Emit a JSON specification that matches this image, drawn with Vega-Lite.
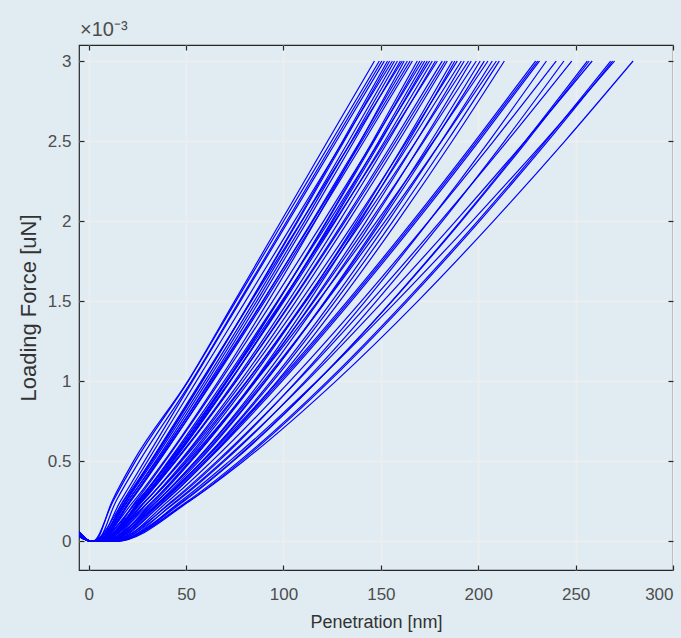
{
"$schema":"https://vega.github.io/schema/vega-lite/v6.json",
"width":594,"height":525,
"autosize":{"type":"none"},
"padding":{"left":79,"top":45,"right":8,"bottom":68},
"background":"#e0ecf2",
"config":{"view":{"stroke":"#262626","strokeWidth":1.2},"font":"Liberation Sans"},
"title":{"text":"×10⁻³","anchor":"start","frame":"group","fontSize":20,"fontWeight":"normal","color":"#4d4d4d","offset":4,"dx":1},
"datasets":{"curves":[
{"c":1,"x":-5,"y":0.00003},{"c":1,"x":1,"y":0},{"c":1,"x":3,"y":0},{"c":1,"x":12,"y":0.00025},{"c":1,"x":23,"y":0.0005},{"c":1,"x":50.9,"y":0.001},{"c":1,"x":74.9,"y":0.0015},{"c":1,"x":98.8,"y":0.002},{"c":1,"x":122.7,"y":0.0025},{"c":1,"x":146.7,"y":0.003},
{"c":2,"x":-5,"y":0.00005},{"c":2,"x":1,"y":0},{"c":2,"x":2,"y":0},{"c":2,"x":12.5,"y":0.00025},{"c":2,"x":24,"y":0.0005},{"c":2,"x":51.1,"y":0.001},{"c":2,"x":75.6,"y":0.0015},{"c":2,"x":100.1,"y":0.002},{"c":2,"x":124.7,"y":0.0025},{"c":2,"x":149.2,"y":0.003},
{"c":3,"x":-5,"y":0.00004},{"c":3,"x":1,"y":0},{"c":3,"x":4,"y":0},{"c":3,"x":16.3,"y":0.00025},{"c":3,"x":28.6,"y":0.0005},{"c":3,"x":53.3,"y":0.001},{"c":3,"x":77.9,"y":0.0015},{"c":3,"x":102.5,"y":0.002},{"c":3,"x":127.2,"y":0.0025},{"c":3,"x":151.8,"y":0.003},
{"c":4,"x":-5,"y":0.00006},{"c":4,"x":1,"y":0},{"c":4,"x":3,"y":0},{"c":4,"x":18.7,"y":0.00025},{"c":4,"x":32.5,"y":0.0005},{"c":4,"x":58.4,"y":0.001},{"c":4,"x":83.1,"y":0.0015},{"c":4,"x":107.0,"y":0.002},{"c":4,"x":130.4,"y":0.0025},{"c":4,"x":153.4,"y":0.003},
{"c":5,"x":-5,"y":0.00003},{"c":5,"x":1,"y":0},{"c":5,"x":5,"y":0},{"c":5,"x":17.6,"y":0.00025},{"c":5,"x":30.2,"y":0.0005},{"c":5,"x":55.3,"y":0.001},{"c":5,"x":80.5,"y":0.0015},{"c":5,"x":105.6,"y":0.002},{"c":5,"x":130.7,"y":0.0025},{"c":5,"x":155.9,"y":0.003},
{"c":6,"x":-5,"y":0.00005},{"c":6,"x":1,"y":0},{"c":6,"x":3,"y":0},{"c":6,"x":19.1,"y":0.00025},{"c":6,"x":33.2,"y":0.0005},{"c":6,"x":59.7,"y":0.001},{"c":6,"x":85.0,"y":0.0015},{"c":6,"x":109.5,"y":0.002},{"c":6,"x":133.5,"y":0.0025},{"c":6,"x":157.0,"y":0.003},
{"c":7,"x":-5,"y":0.00004},{"c":7,"x":1,"y":0},{"c":7,"x":4,"y":0},{"c":7,"x":20.1,"y":0.00025},{"c":7,"x":34.3,"y":0.0005},{"c":7,"x":60.9,"y":0.001},{"c":7,"x":86.3,"y":0.0015},{"c":7,"x":110.9,"y":0.002},{"c":7,"x":134.9,"y":0.0025},{"c":7,"x":158.5,"y":0.003},
{"c":8,"x":-5,"y":0.00006},{"c":8,"x":1,"y":0},{"c":8,"x":6,"y":0},{"c":8,"x":18.9,"y":0.00025},{"c":8,"x":31.8,"y":0.0005},{"c":8,"x":57.7,"y":0.001},{"c":8,"x":83.5,"y":0.0015},{"c":8,"x":109.3,"y":0.002},{"c":8,"x":135.2,"y":0.0025},{"c":8,"x":161.0,"y":0.003},
{"c":9,"x":-5,"y":0.00003},{"c":9,"x":1,"y":0},{"c":9,"x":3,"y":0},{"c":9,"x":23.1,"y":0.00025},{"c":9,"x":38.7,"y":0.0005},{"c":9,"x":66.6,"y":0.001},{"c":9,"x":92.2,"y":0.0015},{"c":9,"x":116.4,"y":0.002},{"c":9,"x":139.6,"y":0.0025},{"c":9,"x":162.0,"y":0.003},
{"c":10,"x":-5,"y":0.00005},{"c":10,"x":1,"y":0},{"c":10,"x":5,"y":0},{"c":10,"x":21.6,"y":0.00025},{"c":10,"x":36.1,"y":0.0005},{"c":10,"x":63.4,"y":0.001},{"c":10,"x":89.5,"y":0.0015},{"c":10,"x":114.7,"y":0.002},{"c":10,"x":139.4,"y":0.0025},{"c":10,"x":163.6,"y":0.003},
{"c":11,"x":-5,"y":0.00004},{"c":11,"x":1,"y":0},{"c":11,"x":4,"y":0},{"c":11,"x":21.0,"y":0.00025},{"c":11,"x":35.8,"y":0.0005},{"c":11,"x":63.8,"y":0.001},{"c":11,"x":90.4,"y":0.0015},{"c":11,"x":116.2,"y":0.002},{"c":11,"x":141.4,"y":0.0025},{"c":11,"x":166.2,"y":0.003},
{"c":12,"x":-5,"y":0.00006},{"c":12,"x":1,"y":0},{"c":12,"x":6,"y":0},{"c":12,"x":26.5,"y":0.00025},{"c":12,"x":42.6,"y":0.0005},{"c":12,"x":71.1,"y":0.001},{"c":12,"x":97.3,"y":0.0015},{"c":12,"x":122.1,"y":0.002},{"c":12,"x":145.8,"y":0.0025},{"c":12,"x":168.7,"y":0.003},
{"c":13,"x":-5,"y":0.00003},{"c":13,"x":1,"y":0},{"c":13,"x":4,"y":0},{"c":13,"x":24.9,"y":0.00025},{"c":13,"x":41.3,"y":0.0005},{"c":13,"x":70.5,"y":0.001},{"c":13,"x":97.2,"y":0.0015},{"c":13,"x":122.4,"y":0.002},{"c":13,"x":146.6,"y":0.0025},{"c":13,"x":170.0,"y":0.003},
{"c":14,"x":-5,"y":0.00005},{"c":14,"x":1,"y":0},{"c":14,"x":7,"y":0},{"c":14,"x":24.2,"y":0.00025},{"c":14,"x":39.2,"y":0.0005},{"c":14,"x":67.5,"y":0.001},{"c":14,"x":94.5,"y":0.0015},{"c":14,"x":120.6,"y":0.002},{"c":14,"x":146.2,"y":0.0025},{"c":14,"x":171.3,"y":0.003},
{"c":15,"x":-5,"y":0.00004},{"c":15,"x":1,"y":0},{"c":15,"x":5,"y":0},{"c":15,"x":26.3,"y":0.00025},{"c":15,"x":42.9,"y":0.0005},{"c":15,"x":72.6,"y":0.001},{"c":15,"x":99.7,"y":0.0015},{"c":15,"x":125.4,"y":0.002},{"c":15,"x":150.0,"y":0.0025},{"c":15,"x":173.8,"y":0.003},
{"c":16,"x":-5,"y":0.00006},{"c":16,"x":1,"y":0},{"c":16,"x":3,"y":0},{"c":16,"x":24.9,"y":0.00025},{"c":16,"x":42.0,"y":0.0005},{"c":16,"x":72.4,"y":0.001},{"c":16,"x":100.3,"y":0.0015},{"c":16,"x":126.7,"y":0.002},{"c":16,"x":152.0,"y":0.0025},{"c":16,"x":176.4,"y":0.003},
{"c":17,"x":-5,"y":0.00003},{"c":17,"x":1,"y":0},{"c":17,"x":6,"y":0},{"c":17,"x":27.7,"y":0.00025},{"c":17,"x":44.6,"y":0.0005},{"c":17,"x":74.9,"y":0.001},{"c":17,"x":102.5,"y":0.0015},{"c":17,"x":128.7,"y":0.002},{"c":17,"x":153.8,"y":0.0025},{"c":17,"x":178.0,"y":0.003},
{"c":18,"x":-5,"y":0.00005},{"c":18,"x":1,"y":0},{"c":18,"x":8,"y":0},{"c":18,"x":25.9,"y":0.00025},{"c":18,"x":41.5,"y":0.0005},{"c":18,"x":71.0,"y":0.001},{"c":18,"x":99.1,"y":0.0015},{"c":18,"x":126.3,"y":0.002},{"c":18,"x":152.9,"y":0.0025},{"c":18,"x":179.0,"y":0.003},
{"c":19,"x":-5,"y":0.00004},{"c":19,"x":1,"y":0},{"c":19,"x":5,"y":0},{"c":19,"x":27.3,"y":0.00025},{"c":19,"x":44.7,"y":0.0005},{"c":19,"x":75.7,"y":0.001},{"c":19,"x":104.1,"y":0.0015},{"c":19,"x":130.9,"y":0.002},{"c":19,"x":156.6,"y":0.0025},{"c":19,"x":181.5,"y":0.003},
{"c":20,"x":-5,"y":0.00006},{"c":20,"x":1,"y":0},{"c":20,"x":7,"y":0},{"c":20,"x":29.3,"y":0.00025},{"c":20,"x":46.8,"y":0.0005},{"c":20,"x":77.9,"y":0.001},{"c":20,"x":106.4,"y":0.0015},{"c":20,"x":133.3,"y":0.002},{"c":20,"x":159.2,"y":0.0025},{"c":20,"x":184.1,"y":0.003},
{"c":21,"x":-5,"y":0.00003},{"c":21,"x":1,"y":0},{"c":21,"x":4,"y":0},{"c":21,"x":31.0,"y":0.00025},{"c":21,"x":50.0,"y":0.0005},{"c":21,"x":82.5,"y":0.001},{"c":21,"x":111.2,"y":0.0015},{"c":21,"x":137.8,"y":0.002},{"c":21,"x":162.8,"y":0.0025},{"c":21,"x":186.7,"y":0.003},
{"c":22,"x":-5,"y":0.00005},{"c":22,"x":1,"y":0},{"c":22,"x":6,"y":0},{"c":22,"x":29.1,"y":0.00025},{"c":22,"x":47.2,"y":0.0005},{"c":22,"x":79.3,"y":0.001},{"c":22,"x":108.8,"y":0.0015},{"c":22,"x":136.7,"y":0.002},{"c":22,"x":163.4,"y":0.0025},{"c":22,"x":189.2,"y":0.003},
{"c":23,"x":-5,"y":0.00004},{"c":23,"x":1,"y":0},{"c":23,"x":8,"y":0},{"c":23,"x":31.1,"y":0.00025},{"c":23,"x":49.2,"y":0.0005},{"c":23,"x":81.4,"y":0.001},{"c":23,"x":110.9,"y":0.0015},{"c":23,"x":138.8,"y":0.002},{"c":23,"x":165.5,"y":0.0025},{"c":23,"x":191.3,"y":0.003},
{"c":24,"x":-5,"y":0.00006},{"c":24,"x":1,"y":0},{"c":24,"x":5,"y":0},{"c":24,"x":32.8,"y":0.00025},{"c":24,"x":52.3,"y":0.0005},{"c":24,"x":85.7,"y":0.001},{"c":24,"x":115.2,"y":0.0015},{"c":24,"x":142.5,"y":0.002},{"c":24,"x":168.2,"y":0.0025},{"c":24,"x":192.8,"y":0.003},
{"c":25,"x":-5,"y":0.00003},{"c":25,"x":1,"y":0},{"c":25,"x":7,"y":0},{"c":25,"x":35.0,"y":0.00025},{"c":25,"x":54.7,"y":0.0005},{"c":25,"x":88.4,"y":0.001},{"c":25,"x":118.1,"y":0.0015},{"c":25,"x":145.7,"y":0.002},{"c":25,"x":171.6,"y":0.0025},{"c":25,"x":196.4,"y":0.003},
{"c":26,"x":-5,"y":0.00005},{"c":26,"x":1,"y":0},{"c":26,"x":9,"y":0},{"c":26,"x":33.0,"y":0.00025},{"c":26,"x":51.7,"y":0.0005},{"c":26,"x":85.1,"y":0.001},{"c":26,"x":115.7,"y":0.0015},{"c":26,"x":144.5,"y":0.002},{"c":26,"x":172.2,"y":0.0025},{"c":26,"x":199.0,"y":0.003},
{"c":27,"x":-5,"y":0.00004},{"c":27,"x":1,"y":0},{"c":27,"x":6,"y":0},{"c":27,"x":35.1,"y":0.00025},{"c":27,"x":55.7,"y":0.0005},{"c":27,"x":90.7,"y":0.001},{"c":27,"x":121.7,"y":0.0015},{"c":27,"x":150.3,"y":0.002},{"c":27,"x":177.3,"y":0.0025},{"c":27,"x":203.1,"y":0.003},
{"c":28,"x":-5,"y":0.00006},{"c":28,"x":1,"y":0},{"c":28,"x":8,"y":0},{"c":28,"x":37.4,"y":0.00025},{"c":28,"x":58.2,"y":0.0005},{"c":28,"x":93.6,"y":0.001},{"c":28,"x":124.9,"y":0.0015},{"c":28,"x":153.8,"y":0.002},{"c":28,"x":181.1,"y":0.0025},{"c":28,"x":207.2,"y":0.003},
{"c":29,"x":-5,"y":0.00003},{"c":29,"x":1,"y":0},{"c":29,"x":10,"y":0},{"c":29,"x":35.1,"y":0.00025},{"c":29,"x":54.8,"y":0.0005},{"c":29,"x":89.8,"y":0.001},{"c":29,"x":121.9,"y":0.0015},{"c":29,"x":152.2,"y":0.002},{"c":29,"x":181.2,"y":0.0025},{"c":29,"x":209.3,"y":0.003},
{"c":30,"x":-5,"y":0.00005},{"c":30,"x":1,"y":0},{"c":30,"x":7,"y":0},{"c":30,"x":37.1,"y":0.00025},{"c":30,"x":58.4,"y":0.0005},{"c":30,"x":94.6,"y":0.001},{"c":30,"x":126.6,"y":0.0015},{"c":30,"x":156.2,"y":0.002},{"c":30,"x":184.1,"y":0.0025},{"c":30,"x":210.8,"y":0.003},
{"c":31,"x":-5,"y":0.00004},{"c":31,"x":1,"y":0},{"c":31,"x":9,"y":0},{"c":31,"x":39.2,"y":0.00025},{"c":31,"x":60.5,"y":0.0005},{"c":31,"x":96.8,"y":0.001},{"c":31,"x":128.9,"y":0.0015},{"c":31,"x":158.6,"y":0.002},{"c":31,"x":186.7,"y":0.0025},{"c":31,"x":213.4,"y":0.003},
{"c":32,"x":-5,"y":0.00006},{"c":32,"x":1,"y":0},{"c":32,"x":9,"y":0},{"c":32,"x":36.8,"y":0.00025},{"c":32,"x":58.5,"y":0.0005},{"c":32,"x":97.3,"y":0.001},{"c":32,"x":132.8,"y":0.0015},{"c":32,"x":166.3,"y":0.002},{"c":32,"x":198.4,"y":0.0025},{"c":32,"x":229.5,"y":0.003},
{"c":33,"x":-5,"y":0.00003},{"c":33,"x":1,"y":0},{"c":33,"x":11,"y":0},{"c":33,"x":38.8,"y":0.00025},{"c":33,"x":60.5,"y":0.0005},{"c":33,"x":99.3,"y":0.001},{"c":33,"x":134.8,"y":0.0015},{"c":33,"x":168.3,"y":0.002},{"c":33,"x":200.4,"y":0.0025},{"c":33,"x":231.5,"y":0.003},
{"c":34,"x":-5,"y":0.00005},{"c":34,"x":1,"y":0},{"c":34,"x":10,"y":0},{"c":34,"x":43.3,"y":0.00025},{"c":34,"x":66.7,"y":0.0005},{"c":34,"x":106.7,"y":0.001},{"c":34,"x":142.0,"y":0.0015},{"c":34,"x":174.7,"y":0.002},{"c":34,"x":205.6,"y":0.0025},{"c":34,"x":235.0,"y":0.003},
{"c":35,"x":-5,"y":0.00004},{"c":35,"x":1,"y":0},{"c":35,"x":12,"y":0},{"c":35,"x":40.8,"y":0.00025},{"c":35,"x":63.2,"y":0.0005},{"c":35,"x":103.3,"y":0.001},{"c":35,"x":140.0,"y":0.0015},{"c":35,"x":174.6,"y":0.002},{"c":35,"x":207.9,"y":0.0025},{"c":35,"x":240.0,"y":0.003},
{"c":36,"x":-5,"y":0.00006},{"c":36,"x":1,"y":0},{"c":36,"x":11,"y":0},{"c":36,"x":45.4,"y":0.00025},{"c":36,"x":69.7,"y":0.0005},{"c":36,"x":111.1,"y":0.001},{"c":36,"x":147.7,"y":0.0015},{"c":36,"x":181.6,"y":0.002},{"c":36,"x":213.5,"y":0.0025},{"c":36,"x":244.0,"y":0.003},
{"c":37,"x":-5,"y":0.00003},{"c":37,"x":1,"y":0},{"c":37,"x":13,"y":0},{"c":37,"x":42.6,"y":0.00025},{"c":37,"x":65.8,"y":0.0005},{"c":37,"x":107.1,"y":0.001},{"c":37,"x":144.9,"y":0.0015},{"c":37,"x":180.6,"y":0.002},{"c":37,"x":214.9,"y":0.0025},{"c":37,"x":248.0,"y":0.003},
{"c":38,"x":-5,"y":0.00005},{"c":38,"x":1,"y":0},{"c":38,"x":12,"y":0},{"c":38,"x":48.2,"y":0.00025},{"c":38,"x":73.7,"y":0.0005},{"c":38,"x":117.3,"y":0.001},{"c":38,"x":155.8,"y":0.0015},{"c":38,"x":191.4,"y":0.002},{"c":38,"x":225.0,"y":0.0025},{"c":38,"x":257.0,"y":0.003},
{"c":39,"x":-5,"y":0.00004},{"c":39,"x":1,"y":0},{"c":39,"x":14,"y":0},{"c":39,"x":44.8,"y":0.00025},{"c":39,"x":68.9,"y":0.0005},{"c":39,"x":111.9,"y":0.001},{"c":39,"x":151.2,"y":0.0015},{"c":39,"x":188.4,"y":0.002},{"c":39,"x":224.1,"y":0.0025},{"c":39,"x":258.5,"y":0.003},
{"c":40,"x":-5,"y":0.00006},{"c":40,"x":1,"y":0},{"c":40,"x":13,"y":0},{"c":40,"x":50.7,"y":0.00025},{"c":40,"x":77.3,"y":0.0005},{"c":40,"x":122.6,"y":0.001},{"c":40,"x":162.6,"y":0.0015},{"c":40,"x":199.7,"y":0.002},{"c":40,"x":234.7,"y":0.0025},{"c":40,"x":268.0,"y":0.003},
{"c":41,"x":-5,"y":0.00003},{"c":41,"x":1,"y":0},{"c":41,"x":15,"y":0},{"c":41,"x":47.2,"y":0.00025},{"c":41,"x":72.3,"y":0.0005},{"c":41,"x":117.1,"y":0.001},{"c":41,"x":158.1,"y":0.0015},{"c":41,"x":196.9,"y":0.002},{"c":41,"x":234.1,"y":0.0025},{"c":41,"x":270.0,"y":0.003},
{"c":42,"x":-5,"y":0.00005},{"c":42,"x":1,"y":0},{"c":42,"x":12,"y":0},{"c":42,"x":51.5,"y":0.00025},{"c":42,"x":79.4,"y":0.0005},{"c":42,"x":126.9,"y":0.001},{"c":42,"x":169.0,"y":0.0015},{"c":42,"x":207.8,"y":0.002},{"c":42,"x":244.5,"y":0.0025},{"c":42,"x":279.5,"y":0.003},
{"c":43,"x":-5,"y":0.00004},{"c":43,"x":1,"y":0},{"c":43,"x":4,"y":0},{"c":43,"x":14.0,"y":0.00025},{"c":43,"x":26.0,"y":0.0005},{"c":43,"x":52.8,"y":0.001},{"c":43,"x":77.3,"y":0.0015},{"c":43,"x":101.7,"y":0.002},{"c":43,"x":126.1,"y":0.0025},{"c":43,"x":150.5,"y":0.003},
{"c":44,"x":-5,"y":0.00006},{"c":44,"x":1,"y":0},{"c":44,"x":2,"y":0},{"c":44,"x":17.9,"y":0.00025},{"c":44,"x":31.9,"y":0.0005},{"c":44,"x":58.2,"y":0.001},{"c":44,"x":83.2,"y":0.0015},{"c":44,"x":107.5,"y":0.002},{"c":44,"x":131.2,"y":0.0025},{"c":44,"x":154.5,"y":0.003},
{"c":45,"x":-5,"y":0.00003},{"c":45,"x":1,"y":0},{"c":45,"x":5,"y":0},{"c":45,"x":21.2,"y":0.00025},{"c":45,"x":35.4,"y":0.0005},{"c":45,"x":62.1,"y":0.001},{"c":45,"x":87.6,"y":0.0015},{"c":45,"x":112.2,"y":0.002},{"c":45,"x":136.3,"y":0.0025},{"c":45,"x":160.0,"y":0.003},
{"c":46,"x":-5,"y":0.00005},{"c":46,"x":1,"y":0},{"c":46,"x":3,"y":0},{"c":46,"x":19.9,"y":0.00025},{"c":46,"x":34.8,"y":0.0005},{"c":46,"x":62.7,"y":0.001},{"c":46,"x":89.3,"y":0.0015},{"c":46,"x":115.1,"y":0.002},{"c":46,"x":140.3,"y":0.0025},{"c":46,"x":165.0,"y":0.003},
{"c":47,"x":-5,"y":0.00004},{"c":47,"x":1,"y":0},{"c":47,"x":6,"y":0},{"c":47,"x":27.0,"y":0.00025},{"c":47,"x":43.4,"y":0.0005},{"c":47,"x":72.7,"y":0.001},{"c":47,"x":99.5,"y":0.0015},{"c":47,"x":124.8,"y":0.002},{"c":47,"x":149.0,"y":0.0025},{"c":47,"x":172.5,"y":0.003},
{"c":48,"x":-5,"y":0.00006},{"c":48,"x":1,"y":0},{"c":48,"x":8,"y":0},{"c":48,"x":25.5,"y":0.00025},{"c":48,"x":40.8,"y":0.0005},{"c":48,"x":69.5,"y":0.001},{"c":48,"x":96.9,"y":0.0015},{"c":48,"x":123.5,"y":0.002},{"c":48,"x":149.5,"y":0.0025},{"c":48,"x":175.0,"y":0.003},
{"c":49,"x":-5,"y":0.00003},{"c":49,"x":1,"y":0},{"c":49,"x":4,"y":0},{"c":49,"x":26.6,"y":0.00025},{"c":49,"x":44.2,"y":0.0005},{"c":49,"x":75.7,"y":0.001},{"c":49,"x":104.5,"y":0.0015},{"c":49,"x":131.7,"y":0.002},{"c":49,"x":157.8,"y":0.0025},{"c":49,"x":183.0,"y":0.003},
{"c":50,"x":-5,"y":0.00005},{"c":50,"x":1,"y":0},{"c":50,"x":7,"y":0},{"c":50,"x":33.8,"y":0.00025},{"c":50,"x":52.6,"y":0.0005},{"c":50,"x":84.8,"y":0.001},{"c":50,"x":113.2,"y":0.0015},{"c":50,"x":139.5,"y":0.002},{"c":50,"x":164.3,"y":0.0025},{"c":50,"x":188.0,"y":0.003},
{"c":51,"x":-5,"y":0.00004},{"c":51,"x":1,"y":0},{"c":51,"x":5,"y":0},{"c":51,"x":29.0,"y":0.00025},{"c":51,"x":47.7,"y":0.0005},{"c":51,"x":81.1,"y":0.001},{"c":51,"x":111.6,"y":0.0015},{"c":51,"x":140.5,"y":0.002},{"c":51,"x":168.2,"y":0.0025},{"c":51,"x":195.0,"y":0.003},
{"c":52,"x":-5,"y":0.00006},{"c":52,"x":1,"y":0},{"c":52,"x":8,"y":0},{"c":52,"x":36.5,"y":0.00025},{"c":52,"x":56.6,"y":0.0005},{"c":52,"x":90.9,"y":0.001},{"c":52,"x":121.3,"y":0.0015},{"c":52,"x":149.3,"y":0.002},{"c":52,"x":175.8,"y":0.0025},{"c":52,"x":201.0,"y":0.003},
{"c":53,"x":-5,"y":0.00003},{"c":53,"x":1,"y":0},{"c":53,"x":6,"y":0},{"c":53,"x":31.1,"y":0.00025},{"c":53,"x":50.7,"y":0.0005},{"c":53,"x":85.7,"y":0.001},{"c":53,"x":117.7,"y":0.0015},{"c":53,"x":148.0,"y":0.002},{"c":53,"x":177.0,"y":0.0025},{"c":53,"x":205.0,"y":0.003},
{"c":54,"x":-5,"y":0.00005},{"c":54,"x":1,"y":0},{"c":54,"x":10,"y":0},{"c":54,"x":37.8,"y":0.00025},{"c":54,"x":59.6,"y":0.0005},{"c":54,"x":98.3,"y":0.001},{"c":54,"x":133.8,"y":0.0015},{"c":54,"x":167.3,"y":0.002},{"c":54,"x":199.4,"y":0.0025},{"c":54,"x":230.5,"y":0.003},
{"c":55,"x":-5,"y":0.00004},{"c":55,"x":1,"y":0},{"c":55,"x":13,"y":0},{"c":55,"x":48.9,"y":0.00025},{"c":55,"x":74.2,"y":0.0005},{"c":55,"x":117.4,"y":0.001},{"c":55,"x":155.6,"y":0.0015},{"c":55,"x":190.9,"y":0.002},{"c":55,"x":224.2,"y":0.0025},{"c":55,"x":256.0,"y":0.003},
{"c":56,"x":-5,"y":0.00006},{"c":56,"x":1,"y":0},{"c":56,"x":14,"y":0},{"c":56,"x":51.7,"y":0.00025},{"c":56,"x":78.3,"y":0.0005},{"c":56,"x":123.6,"y":0.001},{"c":56,"x":163.6,"y":0.0015},{"c":56,"x":200.7,"y":0.002},{"c":56,"x":235.7,"y":0.0025},{"c":56,"x":269.0,"y":0.003}
]},
"data":{"name":"curves"},
"layer":[
{"mark":{"type":"line","color":"#0000ff","strokeWidth":1.2,"interpolate":"monotone","clip":true},
 "encoding":{
  "x":{"field":"x","type":"quantitative","scale":{"domain":[-5,300],"nice":false,"zero":false},
   "axis":{"values":[0,50,100,150,200,250,300],"title":"Penetration [nm]","grid":true,"gridColor":"#eeeeee","gridWidth":1.5,"domain":false,"ticks":false,"labelPadding":16,"labelFontSize":17,"labelColor":"#4d4d4d","labelFont":"Liberation Sans","titleFont":"Liberation Sans","titleFontSize":18,"titleFontWeight":"normal","titleColor":"#333333","titlePadding":11}},
  "y":{"field":"y","type":"quantitative","scale":{"domain":[-0.00018,0.0031],"nice":false,"zero":false},
   "axis":{"values":[0,0.0005,0.001,0.0015,0.002,0.0025,0.003],"labelExpr":"format(datum.value*1000,'.1~f')","title":"Loading Force [uN]","grid":true,"gridColor":"#eeeeee","gridWidth":1.5,"domain":false,"ticks":false,"labelPadding":8,"labelFontSize":17,"labelColor":"#4d4d4d","labelFont":"Liberation Sans","titleFont":"Liberation Sans","titleFontSize":22,"titleFontWeight":"normal","titleColor":"#333333","titlePadding":7}},
  "detail":{"field":"c","type":"nominal"}}},
{"mark":{"type":"point","opacity":0},
 "encoding":{
  "x":{"field":"x","type":"quantitative","axis":{"orient":"top","offset":-5,"values":[0,50,100,150,200,250,300],"labels":false,"grid":false,"domain":false,"tickSize":5,"tickWidth":1.2,"tickColor":"#262626","title":null}},
  "y":{"field":"y","type":"quantitative","axis":{"orient":"right","offset":-5,"values":[0,0.0005,0.001,0.0015,0.002,0.0025,0.003],"labels":false,"grid":false,"domain":false,"tickSize":5,"tickWidth":1.2,"tickColor":"#262626","title":null}}}},
{"mark":{"type":"point","opacity":0},
 "encoding":{
  "x":{"field":"x","type":"quantitative","axis":{"orient":"bottom","offset":-5,"values":[0,50,100,150,200,250,300],"labels":false,"grid":false,"domain":false,"tickSize":5,"tickWidth":1.2,"tickColor":"#262626","title":null}},
  "y":{"field":"y","type":"quantitative","axis":{"orient":"left","offset":-5,"values":[0,0.0005,0.001,0.0015,0.002,0.0025,0.003],"labels":false,"grid":false,"domain":false,"tickSize":5,"tickWidth":1.2,"tickColor":"#262626","title":null}}}}
],
"resolve":{"axis":{"x":"independent","y":"independent"}}
}
